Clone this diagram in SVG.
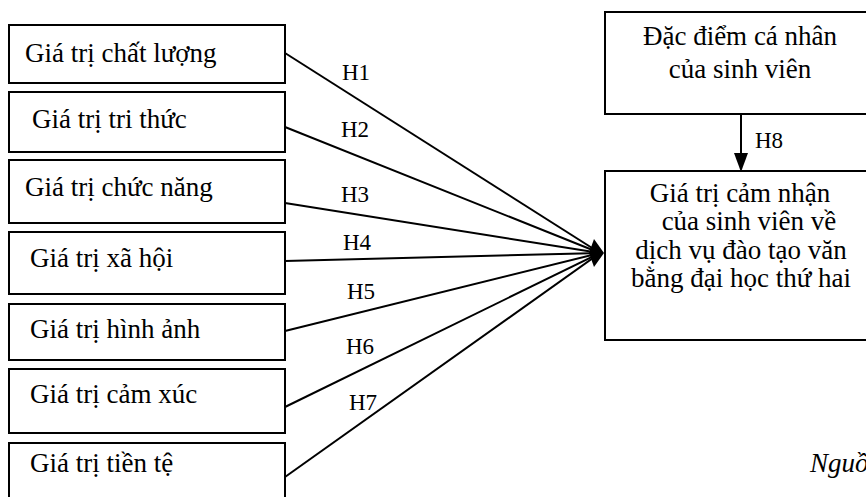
<svg xmlns="http://www.w3.org/2000/svg" width="866" height="497" viewBox="0 0 866 497">
<style>
.box{fill:#fff;stroke:#000;stroke-width:2}
.t{font-family:'Liberation Serif',serif;font-size:27px;fill:#000}
.lb{font-family:'Liberation Serif',serif;font-size:23px;fill:#000}
.c{text-anchor:middle}
.ln{stroke:#000;stroke-width:2;fill:none}
.ah{fill:#000}
</style>
<rect width="866" height="497" fill="#fff"/>
<g id="n1"><rect class="box" x="9" y="25" width="276" height="58"/><text class="t" x="25" y="62">Giá trị chất lượng</text></g>
<g id="n2"><rect class="box" x="9" y="92" width="276" height="60"/><text class="t" x="32" y="128">Giá trị tri thức</text></g>
<g id="n3"><rect class="box" x="9" y="160" width="276" height="63"/><text class="t" x="25" y="196">Giá trị chức năng</text></g>
<g id="n4"><rect class="box" x="9" y="232" width="276" height="62"/><text class="t" x="30" y="267">Giá trị xã hội</text></g>
<g id="n5"><rect class="box" x="9" y="304" width="276" height="56"/><text class="t" x="30" y="338">Giá trị hình ảnh</text></g>
<g id="n6"><rect class="box" x="9" y="369" width="276" height="64"/><text class="t" x="30" y="403">Giá trị cảm xúc</text></g>
<g id="n7"><rect class="box" x="9" y="443" width="276" height="70"/><text class="t" x="30" y="472">Giá trị tiền tệ</text></g>
<g id="n8"><rect class="box" x="605" y="12" width="275" height="102"/>
<text class="t c" x="740" y="45">Đặc điểm cá nhân</text><text class="t c" x="740" y="78">của sinh viên</text></g>
<g id="n9"><rect class="box" x="605" y="171" width="275" height="169"/>
<text class="t c" x="740" y="202">Giá trị cảm nhận</text>
<text class="t c" x="749" y="230">của sinh viên về</text>
<text class="t c" x="741" y="259">dịch vụ đào tạo văn</text>
<text class="t c" x="741" y="287">bằng đại học thứ hai</text></g>
<g id="connectors">
<path class="ln" d="M285,53 L600,253"/>
<path class="ln" d="M285,127 L600,253"/>
<path class="ln" d="M285,203 L600,253"/>
<path class="ln" d="M285,261 L600,253"/>
<path class="ln" d="M285,331 L600,253"/>
<path class="ln" d="M285,407 L600,253"/>
<path class="ln" d="M285,477 L600,253"/>
<polygon class="ah" points="604,253 594,239 589,253 594,267"/>
<path class="ln" d="M741,114 L741,155"/>
<polygon class="ah" points="734,153 748,153 741,172"/>
<text class="lb" x="342" y="80">H1</text>
<text class="lb" x="341" y="137">H2</text>
<text class="lb" x="341" y="202">H3</text>
<text class="lb" x="343" y="250">H4</text>
<text class="lb" x="347" y="299">H5</text>
<text class="lb" x="346" y="354">H6</text>
<text class="lb" x="349" y="410">H7</text>
<text class="lb" x="755" y="148">H8</text>
</g>
<text class="t" x="810" y="472" font-style="italic">Nguồn</text>
</svg>
